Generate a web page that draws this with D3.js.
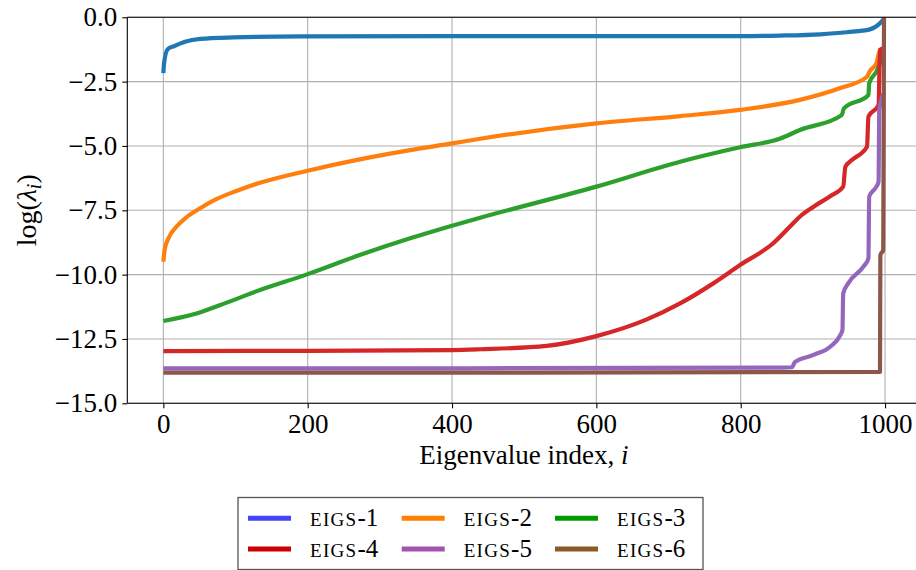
<!DOCTYPE html>
<html>
<head>
<meta charset="utf-8">
<script src="https://cdn.jsdelivr.net/npm/d3@7"></script>
<style>
  html, body { margin: 0; padding: 0; background: #fff; }
  svg { display: block; }
  svg text { font-family: "Liberation Serif", "DejaVu Serif", serif; fill: #000; }
</style>
</head>
<body>
<svg id="chart" width="916" height="570"></svg>
<script>
// ---- data (index, log eigenvalue) ----
const seriesNames = ["1", "2", "3", "4", "5", "6"];
const eigs1 = [[0,-2.17],[1,-1.78],[6,-1.24],[15,-1.12],[30,-0.95],[51,-0.84],[97,-0.78],[190,-0.74],[400,-0.73],[600,-0.73],[800,-0.73],[854,-0.71],[910,-0.66],[947,-0.58],[979,-0.47],[993,-0.23],[999,-0.04]];
const eigs2 = [[0,-9.5],[2,-9.0],[7,-8.59],[18,-8.14],[32,-7.77],[51,-7.42],[74,-7.06],[102,-6.74],[134,-6.43],[200,-5.96],[272,-5.52],[342,-5.16],[400,-4.9],[439,-4.72],[600,-4.12],[716,-3.84],[799,-3.6],[882,-3.21],[938,-2.75],[975,-2.31],[979,-2.09],[988,-1.79],[993,-1.27],[999,-1.2]];
const eigs3 = [[0,-11.8],[42,-11.54],[79,-11.18],[134,-10.6],[200,-9.98],[272,-9.24],[342,-8.59],[400,-8.1],[439,-7.79],[600,-6.58],[716,-5.61],[799,-5.05],[854,-4.72],[882,-4.38],[940,-3.8],[943,-3.54],[977,-3.02],[978,-2.57],[988,-2.11],[993,-1.79],[999,-1.25]];
const eigs4 = [[0,-12.97],[200,-12.96],[400,-12.93],[439,-12.9],[531,-12.77],[600,-12.39],[670,-11.74],[716,-11.12],[762,-10.34],[799,-9.63],[845,-8.78],[868,-8.14],[883,-7.72],[901,-7.36],[924,-6.95],[942,-6.58],[945,-5.81],[954,-5.55],[975,-5.03],[977,-3.86],[991,-3.41],[993,-1.27],[999,-1.2]];
const eigs5 = [[0,-13.64],[400,-13.64],[857,-13.61],[871,-13.6],[873,-13.51],[875,-13.4],[901,-13.12],[924,-12.8],[938,-12.35],[941,-12.15],[942,-10.73],[949,-10.34],[970,-9.69],[977,-9.37],[978,-6.97],[988,-6.58],[991,-6.39],[992,-3.6],[999,-2.9]];
const eigs6 = [[0,-13.81],[500,-13.81],[993,-13.78],[993.5,-9.24],[997.5,-9.04],[998.6,0.2]];
const allSeries = [eigs1, eigs2, eigs3, eigs4, eigs5, eigs6];

const lineColors   = ["#1f77b4", "#ff7f0e", "#2ca02c", "#d62728", "#9467bd", "#8c564b"];
const legendColors = ["#4444ff", "#ff8000", "#009a00", "#cc0000", "#a352ad", "#8b5a2b"];

const xTicks = [0, 200, 400, 600, 800, 1000];
const xTickLabels = ["0", "200", "400", "600", "800", "1000"];
const yTicks = [0, -2.5, -5, -7.5, -10, -12.5, -15];
const yTickLabels = ["0.0", "\u22122.5", "\u22125.0", "\u22127.5", "\u221210.0", "\u221212.5", "\u221215.0"];

// ---- layout ----
const FONT = "'Liberation Serif', 'DejaVu Serif', serif";
const svg = d3.select("#chart");
const pL = 127.3, pT = 17.3, pB = 403.3;
const x = d3.scaleLinear().domain([-49.95, 1048.95]).range([pL, pL + 1098.9 * 0.7217]);
const y = d3.scaleLinear().domain([-15, 0]).range([pB, pT]);
const pR = x.range()[1];

svg.append("defs").append("clipPath").attr("id", "plotclip")
  .append("rect").attr("x", pL).attr("y", pT).attr("width", pR - pL).attr("height", pB - pT);

// grid
const grid = svg.append("g");
grid.selectAll("line.gx").data(xTicks).join("line")
  .attr("x1", d => x(d)).attr("x2", d => x(d)).attr("y1", pT).attr("y2", pB)
  .attr("stroke", "#b0b0b0").attr("stroke-width", 1.1);
grid.selectAll("line.gy").data(yTicks).join("line")
  .attr("y1", d => y(d)).attr("y2", d => y(d)).attr("x1", pL).attr("x2", pR)
  .attr("stroke", "#b0b0b0").attr("stroke-width", 1.1);

// lines
const line = d3.line().x(d => x(d[0])).y(d => y(d[1])).curve(d3.curveMonotoneX);
const lg = svg.append("g").attr("clip-path", "url(#plotclip)");
allSeries.forEach((s, k) => {
  lg.append("path").datum(s).attr("d", line)
    .attr("fill", "none").attr("stroke", lineColors[k]).attr("stroke-width", 4.2)
    .attr("stroke-linejoin", "round").attr("stroke-linecap", "butt");
});

// axes
const xAxis = d3.axisBottom(x).tickValues(xTicks).tickFormat((d, i) => xTickLabels[i]).tickSizeOuter(0).tickSize(5).tickPadding(6);
const yAxis = d3.axisLeft(y).tickValues(yTicks).tickFormat((d, i) => yTickLabels[i]).tickSizeOuter(0).tickSize(5).tickPadding(5);
const gx = svg.append("g").attr("transform", `translate(0,${pB})`).call(xAxis);
const gy = svg.append("g").attr("transform", `translate(${pL},0)`).call(yAxis);
[gx, gy].forEach(g => {
  g.attr("font-family", null).attr("font-size", null);
  g.select(".domain").remove();
  g.selectAll(".tick line").attr("stroke", "#000").attr("stroke-width", 1.1);
  g.selectAll(".tick text").style("font-family", FONT).style("font-size", "27px").attr("fill", "#000");
});

// spines
[[pL, pT, pL, pB], [pL, pB, pR, pB], [pL, pT, pR, pT], [pR, pT, pR, pB]].forEach(s => {
  svg.append("line").attr("x1", s[0]).attr("y1", s[1]).attr("x2", s[2]).attr("y2", s[3])
    .attr("stroke", "#000").attr("stroke-width", 1.1);
});

// axis labels
const xl = svg.append("text").attr("x", (pL + pR) / 2).attr("y", 464).attr("text-anchor", "middle")
  .style("font-family", FONT).style("font-size", "27px");
xl.append("tspan").text("Eigenvalue index, ");
xl.append("tspan").attr("font-style", "italic").text("i");

const yl = svg.append("text").attr("transform", `translate(36,${(pT + pB) / 2}) rotate(-90)`).attr("text-anchor", "middle")
  .style("font-family", FONT).style("font-size", "28px");
yl.append("tspan").text("log(");
yl.append("tspan").attr("font-style", "italic").text("\u03bb");
yl.append("tspan").attr("font-style", "italic").style("font-size", "20px").attr("dy", 5).text("i");
yl.append("tspan").attr("dy", -5).text(")");

// legend
const legend = svg.append("g");
legend.append("rect").attr("x", 238).attr("y", 497.5).attr("width", 465).attr("height", 72)
  .attr("fill", "#fff").attr("stroke", "#555").attr("stroke-width", 1.3);
const colX = [248, 401.7, 555];
const rowY = [518.3, 549];
seriesNames.forEach((n, k) => {
  const cx = colX[k % 3], cy = rowY[Math.floor(k / 3)];
  legend.append("line").attr("x1", cx).attr("x2", cx + 43).attr("y1", cy).attr("y2", cy)
    .attr("stroke", legendColors[k]).attr("stroke-width", 5);
  const t = legend.append("text").attr("x", cx + 62).attr("y", cy + 7.5)
    .style("font-family", FONT).style("font-size", "25px");
  t.append("tspan").style("font-size", "19px").attr("letter-spacing", 1.3).text("EIGS");
  t.append("tspan").text("-" + n);
});
</script>
</body>
</html>
